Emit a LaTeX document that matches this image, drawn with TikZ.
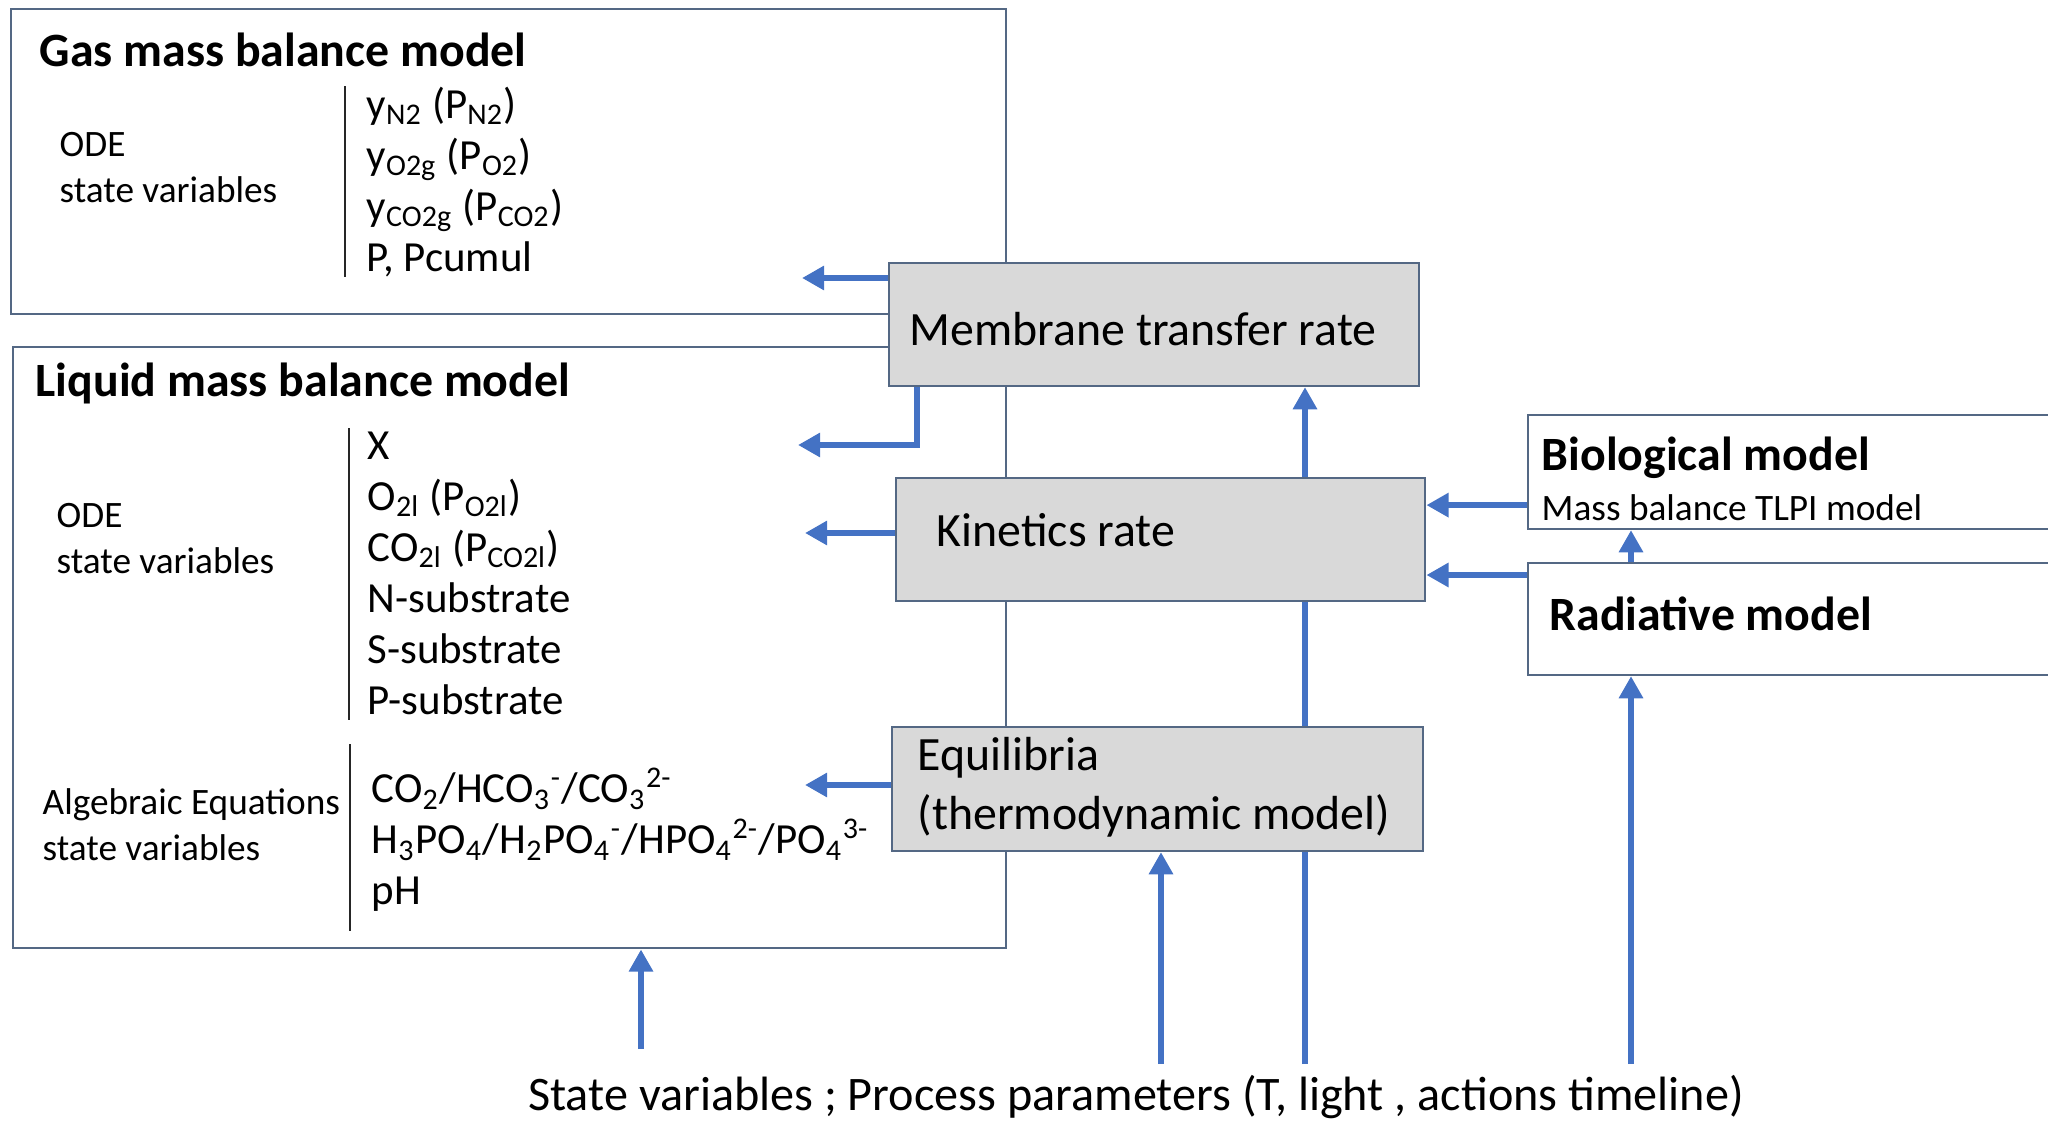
\documentclass[tikz,border=0pt]{standalone}
\usepackage{fontspec}
\setmainfont{Carlito}
\usetikzlibrary{arrows.meta,backgrounds}
\definecolor{arrowblue}{RGB}{68,114,196}
\definecolor{edgeblue}{RGB}{84,104,132}
\definecolor{boxgray}{RGB}{217,217,217}
\tikzset{
  bigbox/.style={draw=edgeblue, line width=0.6pt, inner sep=0pt, anchor=north west},
  ratebox/.style={bigbox, fill=boxgray},
  modelbox/.style={bigbox, fill=white},
  flow/.style={arrowblue, line width=1.9pt, -{Triangle[length=6.3pt,width=6.6pt]}},
  divider/.style={line width=0.6pt, black!85},
  boxtitle/.style={font=\bfseries\fontsize{13.6}{16}\selectfont, anchor=west, inner sep=0pt},
  vartype/.style={font=\fontsize{10.6}{13.1}\selectfont, align=left, anchor=west, inner sep=0pt},
  varlist/.style={font=\fontsize{12.2}{14.5}\selectfont, align=left, anchor=west, inner sep=0pt},
  ratetext/.style={font=\fontsize{13.6}{16.8}\selectfont, align=left, anchor=west, inner sep=0pt}
}

\begin{document}
\begin{tikzpicture}[x=0.01cm, y=-0.01cm]
  \useasboundingbox (0,0) rectangle (2048,1121);

  % gas and liquid balance boxes
  \node[bigbox, minimum width=9.94cm, minimum height=3.05cm] (gas) at (10,8) {};
  \node[boxtitle] (gastitle) at (39,50) {Gas mass balance model};
  \node[vartype] (gasode) at (59,168) {ODE\\state variables};
  \draw[divider] (345,86) -- (345,277);
  \node[varlist] (gasvars) at (366,182) {y\textsubscript{N2} (P\textsubscript{N2})\\
    y\textsubscript{O2g} (P\textsubscript{O2})\\
    y\textsubscript{CO2g} (P\textsubscript{CO2})\\
    P, Pcumul};

  \node[bigbox, minimum width=9.92cm, minimum height=6.01cm] (liq) at (12,346) {};
  \node[boxtitle] (liqtitle) at (35,383) {Liquid mass balance model};
  \node[vartype] (liqode) at (56,539) {ODE\\state variables};
  \draw[divider] (349,428) -- (349,720);
  \node[varlist] (liqvars) at (367,573) {X\\
    O\textsubscript{2l} (P\textsubscript{O2l})\\
    CO\textsubscript{2l} (P\textsubscript{CO2l})\\
    N-substrate\\
    S-substrate\\
    P-substrate};
  \node[vartype] (algode) at (42,825) {Algebraic Equations\\state variables};
  \draw[divider] (350,744) -- (350,931);
  \node[varlist] (algvars) at (371,840) {CO\textsubscript{2}/HCO\textsubscript{3}\textsuperscript{-}/CO\textsubscript{3}\textsuperscript{2-}\\
    H\textsubscript{3}PO\textsubscript{4}/H\textsubscript{2}PO\textsubscript{4}\textsuperscript{-}/HPO\textsubscript{4}\textsuperscript{2-}/PO\textsubscript{4}\textsuperscript{3-}\\
    pH};

  % rate boxes
  \node[ratebox, minimum width=5.30cm, minimum height=1.23cm] (memb) at (888,262) {};
  \node[ratetext] (membtext) at (909,329) {Membrane transfer rate};
  \node[ratebox, minimum width=5.29cm, minimum height=1.23cm] (kin) at (895,477) {};
  \node[ratetext] (kintext) at (936,530) {Kinetics rate};
  \node[ratebox, minimum width=5.31cm, minimum height=1.24cm] (equi) at (891,726) {};
  \node[ratetext] (equitext) at (917,787) {Equilibria\\(thermodynamic model)};

  % model boxes
  \node[modelbox, minimum width=5.23cm, minimum height=1.14cm] (bio) at (1527,414) {};
  \node[boxtitle] (biotitle) at (1541,458) {Biological model};
  \node[vartype] (biotext) at (1541,508) {Mass balance TLPI model};
  \node[modelbox, minimum width=5.23cm, minimum height=1.12cm] (rad) at (1527,562) {};
  \node[boxtitle] (radtitle) at (1549,614) {Radiative model};

  \node[font=\fontsize{13.7}{16}\selectfont, inner sep=0pt] (inputs) at (1136,1097)
    {State variables ; Process parameters (T, light , actions timeline)};

  % connectors
  \coordinate (gasin) at (802,278);
  \coordinate (elbow) at (917,445);
  \coordinate (liqin) at (798,445);
  \coordinate (kinout) at (805,533);
  \coordinate (equiout) at (805,785);
  \coordinate (liqsrc) at (641,1049);
  \coordinate (equisrc) at (1161,1064);
  \coordinate (membsrc) at (1305,1064);
  \coordinate (radsrc) at (1631,1064);

  \draw[flow] (gasin -| memb.west) -- (gasin);
  \draw[flow] (memb.south -| elbow) -- (elbow) -- (liqin);
  \draw[flow] (kinout -| kin.west) -- (kinout);
  \draw[flow] (equiout -| equi.west) -- (equiout);
  \draw[flow] ([yshift=-0.33cm]bio.west) coordinate (bioout) -- (kin.east |- bioout);
  \draw[flow] ([yshift=-0.13cm]rad.north west) coordinate (radout) -- (kin.east |- radout);
  \draw[flow] (rad.north -| radsrc) -- (bio.south -| radsrc);
  \draw[flow] (radsrc) -- (rad.south -| radsrc);
  \draw[flow] (liqsrc) -- (liq.south -| liqsrc);
  \draw[flow] (equisrc) -- (equi.south -| equisrc);
  \begin{scope}[on background layer]
    \draw[flow] (membsrc) -- (memb.south -| membsrc);
  \end{scope}
\end{tikzpicture}
\end{document}
